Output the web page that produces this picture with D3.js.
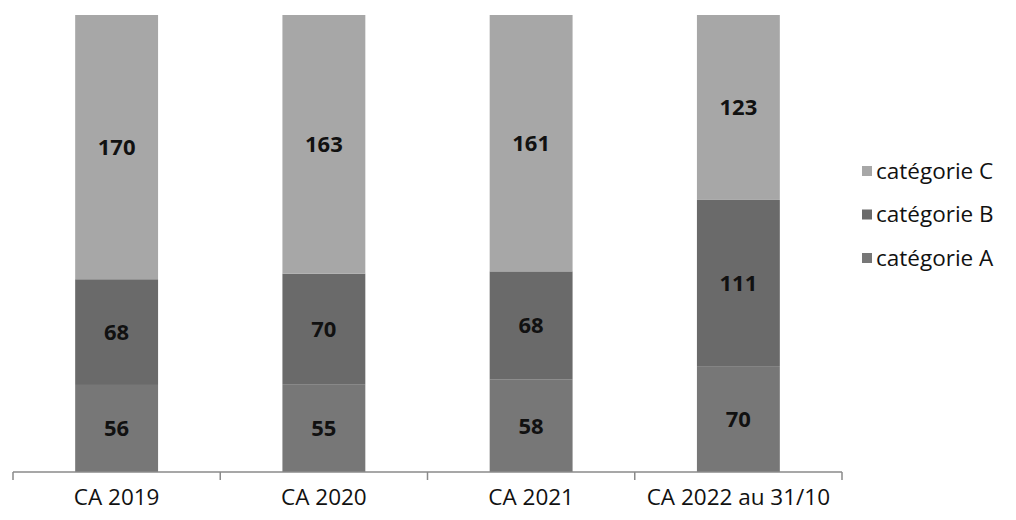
<!DOCTYPE html>
<html>
<head>
<meta charset="utf-8">
<script src="https://cdn.jsdelivr.net/npm/d3@7"></script>
<style>
  html, body { margin: 0; padding: 0; background: #fff; }
  svg { display: block; font-family: "Open Sans", "Noto Sans", sans-serif; }
</style>
</head>
<body>
<svg id="chart" width="1016" height="520"></svg>
<script>
// Stacked 100% bars: number of files per category and fiscal year
const categories = ["CA 2019", "CA 2020", "CA 2021", "CA 2022 au 31/10"];
const catA = [56, 55, 58, 70];
const catB = [68, 70, 68, 111];
const catC = [170, 163, 161, 123];
const seriesNames = ["catégorie A", "catégorie B", "catégorie C"];
const seriesColors = ["#777777", "#6a6a6a", "#a7a7a7"];

const rows = categories.map((c, i) => ({
  cat: c,
  "catégorie A": catA[i],
  "catégorie B": catB[i],
  "catégorie C": catC[i]
}));

const stack = d3.stack()
  .keys(seriesNames)
  .offset(d3.stackOffsetExpand);
const layers = stack(rows);

const svg = d3.select("#chart");
const x = d3.scaleBand().domain(categories).range([13, 842])
  .paddingInner(0.6).paddingOuter(0.3);
const y = d3.scaleLinear().domain([0, 1]).range([472, 15]);
const color = d3.scaleOrdinal().domain(seriesNames).range(seriesColors);

// bars
const g = svg.append("g");
layers.forEach(layer => {
  g.append("g")
    .attr("fill", color(layer.key))
    .selectAll("rect")
    .data(layer)
    .join("rect")
    .attr("x", d => x(d.data.cat))
    .attr("width", x.bandwidth())
    .attr("y", d => y(d[1]))
    .attr("height", d => y(d[0]) - y(d[1]));
});

// value labels centred in each segment
layers.forEach(layer => {
  g.append("g")
    .selectAll("text")
    .data(layer)
    .join("text")
    .attr("x", d => x(d.data.cat) + x.bandwidth() / 2)
    .attr("y", d => (y(d[0]) + y(d[1])) / 2)
    .attr("dy", "0.36em")
    .attr("text-anchor", "middle")
    .attr("font-size", 22)
    .attr("font-weight", 700)
    .attr("fill", "#111")
    .text(d => d.data[layer.key]);
});

// category axis
const axis = svg.append("g").attr("transform", "translate(0,472)");
axis.call(d3.axisBottom(x).tickSize(0).tickPadding(17))
  .call(a => a.select(".domain").remove())
  .call(a => a.selectAll("text")
    .attr("font-size", 22.5)
    .attr("fill", "#111")
    .attr("font-family", "'Open Sans', sans-serif"));
const [r0, r1] = x.range();
axis.append("line")
  .attr("x1", r0).attr("x2", r1)
  .attr("stroke", "#8a8a8a").attr("stroke-width", 1.5);
const bounds = d3.range(categories.length + 1).map(i => r0 + i * (r1 - r0) / categories.length);
axis.selectAll("line.tick-b")
  .data(bounds)
  .join("line")
  .attr("class", "tick-b")
  .attr("x1", d => d).attr("x2", d => d)
  .attr("y1", 0).attr("y2", 8)
  .attr("stroke", "#8a8a8a").attr("stroke-width", 1.5);

// legend (top entry is the top series)
const legend = svg.append("g").attr("transform", "translate(862,171)");
const legendItems = seriesNames.slice().reverse();
const li = legend.selectAll("g")
  .data(legendItems)
  .join("g")
  .attr("transform", (d, i) => `translate(0,${i * 43.5})`);
li.append("rect")
  .attr("x", 0).attr("y", -5)
  .attr("width", 10).attr("height", 10)
  .attr("fill", d => color(d));
li.append("text")
  .attr("x", 14)
  .attr("dy", "0.35em")
  .attr("font-size", 22.5)
  .attr("fill", "#111")
  .text(d => d);
</script>
</body>
</html>
